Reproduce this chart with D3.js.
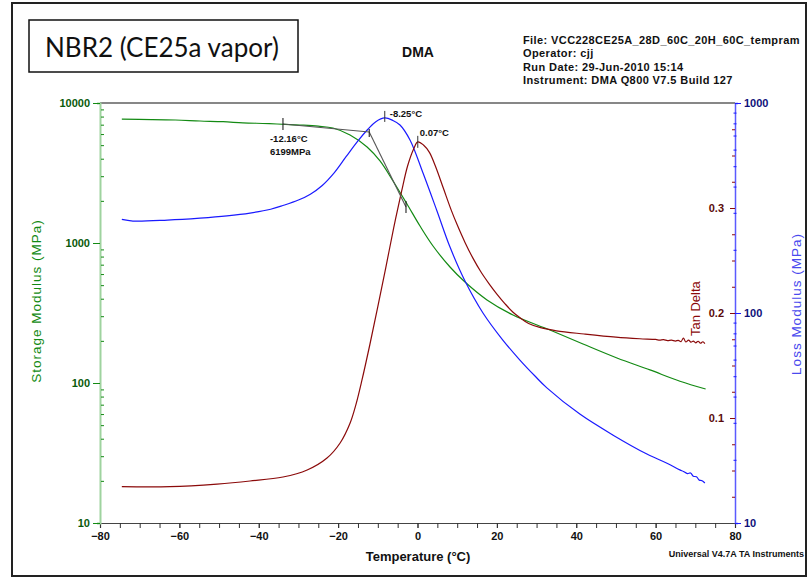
<!DOCTYPE html>
<html>
<head>
<meta charset="utf-8">
<script src="https://cdn.jsdelivr.net/npm/d3@7/dist/d3.min.js"></script>
<style>
  html, body { margin: 0; padding: 0; background: #fff; }
  svg { display: block; }
  text { font-family: "Liberation Sans", Arial, sans-serif; }
</style>
</head>
<body>
<svg id="chart" width="809" height="579"></svg>
<script>
// ---- DMA temperature ramp, NBR2 (CE25a vapor) ----
// Storage modulus E' (MPa) vs temperature (°C)
const storageT   = [-74.5, -67, -61, -54.8, -49, -44, -39, -35.4, -29.6, -25, -21.3, -17, -12.7, -9.45, -6.17, -2.65, 0.63, 3.91, 8.19, 11.97, 17.51, 24.06, 33.38, 41.7, 50.26, 58.57, 66.13, 72.6];
const storageMPa = [7660, 7620, 7560, 7440, 7350, 7220, 7140, 7080, 6960, 6830, 6630, 5910, 4850, 3853, 2773, 1900, 1322, 952, 674, 526, 392, 306, 239, 190, 151, 124, 103, 90.6];

// Loss modulus E'' (MPa)
const lossT   = [-74.5, -71.7, -63, -54.8, -48, -42.2, -37, -33.9, -30, -27, -24, -21, -18, -15, -12.5, -10.5, -8.25, -6.2, -4.41, -1.89, 1.39, 4.91, 8.19, 11.97, 16.5, 21.5, 25.8, 29.6, 32.6, 40.9, 49.3, 57.8, 63, 66.1, 67, 68, 68.8, 69.5, 70.3, 71, 71.7, 72.4];
const lossMPa = [279, 274, 277, 283, 290, 299, 312, 325, 345, 368, 405, 465, 555, 660, 750, 815, 849, 826, 786, 667, 464, 306, 206, 142, 100, 74.3, 59.7, 50.1, 44, 33.0, 26.2, 21.3, 19.2, 17.9, 17.6, 17.2, 17.3, 16.7, 16.6, 16.0, 15.9, 15.5];

// Tan delta (dimensionless)
const tanT     = [-74.5, -62.4, -50.5, -42.2, -33.9, -27.8, -22.8, -19.5, -17, -15.5, -14, -12, -10, -8, -6, -4, -2.5, -1, 0.07, 1.5, 3, 4.5, 6.5, 8.5, 10, 12, 14, 16, 18, 20, 22, 24, 26, 28, 31, 35, 42, 50, 56, 60, 61, 62, 63, 64, 65, 65.7, 66.4, 67, 67.6, 68.3, 68.9, 69.5, 70.1, 70.7, 71.3, 71.9, 72.4];
const tanDelta = [0.0346, 0.0346, 0.0371, 0.040, 0.0438, 0.0505, 0.0619, 0.0762, 0.095, 0.113, 0.136, 0.170, 0.206, 0.243, 0.281, 0.316, 0.340, 0.356, 0.363, 0.360, 0.353, 0.340, 0.319, 0.298, 0.284, 0.267, 0.252, 0.239, 0.228, 0.218, 0.209, 0.201, 0.195, 0.190, 0.186, 0.183, 0.180, 0.177, 0.1755, 0.1748, 0.1742, 0.1746, 0.1737, 0.1741, 0.1733, 0.1740, 0.1728, 0.1762, 0.1724, 0.1742, 0.1722, 0.1733, 0.1716, 0.1731, 0.1712, 0.1726, 0.1708];

// Axis ticks
const tempMajor = [-80, -60, -40, -20, 0, 20, 40, 60, 80];
const tempMinor = d3.range(-80, 81, 5);
const storageTicks = [10, 100, 1000, 10000];
const lossTicks = [10, 100, 1000];
const tanTicks = [0.1, 0.2, 0.3];

// Analysis results
const onsetTangent1 = { t0: -33.9, e0: 7080, t1: -12.16, e1: 6199 };
const onsetTangent2 = { t0: -12.16, e0: 6199, t1: -2.9, e1: 1808 };
const onsetLabel = ["-12.16°C", "6199MPa"];
const lossPeak = { t: -8.25, v: 849, label: "-8.25°C" };
const tanPeak = { t: 0.07, v: 0.363, label: "0.07°C" };

// Header
const chartTitle = "NBR2 (CE25a vapor)";
const methodName = "DMA";
const runInfo = [
  "File: VCC228CE25A_28D_60C_20H_60C_tempram",
  "Operator: cjj",
  "Run Date: 29-Jun-2010 15:14",
  "Instrument: DMA Q800 V7.5 Build 127"
];
const softwareNote = "Universal V4.7A TA Instruments";

// ---- layout ----
const plot = { left: 100, right: 735, top: 103, bottom: 523 };
const colors = {
  storage: "#138a13", storageAxis: "#9fd39f", storageText: "#0a5a0a",
  loss: "#1a1aff", lossAxis: "#5a5aff", lossText: "#10107a", lossTitle: "#4a4aee",
  tan: "#8b0a0a", tanText: "#5a0a0a"
};

const svg = d3.select("#chart");

// frame
svg.append("rect").attr("x", 12).attr("y", 3).attr("width", 794).attr("height", 573)
  .attr("fill", "none").attr("stroke", "#222").attr("stroke-width", 2);

// title box
svg.append("rect").attr("x", 29).attr("y", 20).attr("width", 269).attr("height", 52)
  .attr("fill", "#fff").attr("stroke", "#111").attr("stroke-width", 1.5);
svg.append("text").attr("x", 45).attr("y", 57).attr("font-size", 26)
  .style("font-family", "Lato, 'Open Sans', sans-serif").attr("fill", "#111").text(chartTitle);

svg.append("text").attr("x", 418).attr("y", 57).attr("text-anchor", "middle")
  .attr("font-size", 14).attr("font-weight", "bold").attr("fill", "#111").text(methodName);

svg.append("clipPath").attr("id", "frameClip")
  .append("rect").attr("x", 13).attr("y", 4).attr("width", 792).attr("height", 571);
svg.append("g").attr("clip-path", "url(#frameClip)")
  .selectAll("text").data(runInfo).join("text")
  .attr("x", 523).attr("y", (d, i) => 44 + i * 13.3)
  .attr("font-size", 11).attr("letter-spacing", 0.4).attr("font-weight", "bold").attr("fill", "#111")
  .text(d => d);

// ---- scales ----
const x = d3.scaleLinear().domain([-80, 80]).range([plot.left, plot.right]);
const yE = d3.scaleLog().domain([10, 10000]).range([plot.bottom, plot.top]);
const yL = d3.scaleLog().domain([10, 1000]).range([plot.bottom, plot.top]);
const yT = d3.scaleLinear().domain([0, 0.4]).range([plot.bottom, plot.top]);

// top border of plot
svg.append("line").attr("x1", plot.left).attr("x2", plot.right)
  .attr("y1", plot.top).attr("y2", plot.top).attr("stroke", "#111").attr("stroke-width", 1.2);

// ---- x axis ----
const gx = svg.append("g").attr("transform", `translate(0,${plot.bottom})`);
gx.call(d3.axisBottom(x).tickValues(tempMinor).tickSize(5).tickFormat(""));
gx.selectAll(".tick line").attr("stroke", "#333");
gx.select(".domain").attr("stroke", "#444").attr("stroke-width", 1.2);
const gxl = svg.append("g").attr("transform", `translate(0,${plot.bottom})`);
gxl.call(d3.axisBottom(x).tickValues(tempMajor).tickSize(5).tickPadding(4).tickFormat(d3.format("d")));
gxl.select(".domain").remove();
gxl.selectAll(".tick text").attr("font-size", 11).attr("font-weight", "bold").attr("fill", "#111")
  .style("font-family", "'Liberation Sans', Arial, sans-serif");
gxl.selectAll(".tick line").attr("stroke", "#333");

svg.append("text").attr("x", 418).attr("y", 561).attr("text-anchor", "middle")
  .attr("font-size", 13).attr("font-weight", "bold").attr("fill", "#111").text("Temperature (°C)");
svg.append("text").attr("x", 804).attr("y", 557).attr("text-anchor", "end")
  .attr("font-size", 9).attr("font-weight", "bold").attr("fill", "#111").text(softwareNote);

// ---- left axis: storage modulus ----
const storageMinor = [];
[10, 100, 1000].forEach(b => { for (let k = 2; k <= 9; k++) storageMinor.push(b * k); });
const gE = svg.append("g").attr("transform", `translate(${plot.left},0)`);
gE.call(d3.axisLeft(yE).tickValues(storageMinor).tickSize(3).tickFormat(""));
gE.selectAll(".tick line").attr("stroke", colors.storage).attr("transform", "translate(4,0)");
gE.select(".domain").attr("stroke", colors.storageAxis).attr("stroke-width", 2);
const gE2 = svg.append("g").attr("transform", `translate(${plot.left},0)`);
gE2.call(d3.axisLeft(yE).tickValues(storageTicks).tickSize(7).tickPadding(3).tickFormat(d3.format("d")));
gE2.select(".domain").remove();
gE2.selectAll(".tick line").attr("stroke", colors.storage);
gE2.selectAll(".tick text").attr("font-size", 11).attr("font-weight", "bold").attr("fill", colors.storageText)
  .style("font-family", "'Liberation Sans', Arial, sans-serif");

svg.append("text").attr("transform", "translate(41,301) rotate(-90)").attr("text-anchor", "middle")
  .attr("font-size", 13.5).attr("letter-spacing", 1).attr("fill", colors.storage).text("Storage Modulus (MPa)");

// ---- right axis: loss modulus + tan delta ----
const lossMinor = [];
[10, 100].forEach(b => { for (let k = 2; k <= 9; k++) lossMinor.push(b * k); });
const gL = svg.append("g").attr("transform", `translate(${plot.right},0)`);
gL.call(d3.axisRight(yL).tickValues(lossMinor).tickSize(3).tickFormat(""));
gL.selectAll(".tick line").attr("stroke", colors.loss).attr("transform", "translate(-1.5,0)");
gL.select(".domain").attr("stroke", colors.lossAxis).attr("stroke-width", 1.5);
const gL2 = svg.append("g").attr("transform", `translate(${plot.right},0)`);
gL2.call(d3.axisRight(yL).tickValues(lossTicks).tickSize(6).tickPadding(3).tickFormat(d3.format("d")));
gL2.select(".domain").remove();
gL2.selectAll(".tick line").attr("stroke", colors.loss);
gL2.selectAll(".tick text").attr("font-size", 11).attr("font-weight", "bold").attr("fill", colors.lossText)
  .style("font-family", "'Liberation Sans', Arial, sans-serif");

const tanMinor = d3.range(0.025, 0.4, 0.025).filter(v => Math.abs(v * 10 - Math.round(v * 10)) > 1e-6);
const gT = svg.append("g").attr("transform", `translate(${plot.right},0)`);
gT.call(d3.axisLeft(yT).tickValues(tanMinor).tickSize(3).tickFormat(""));
gT.select(".domain").remove();
gT.selectAll(".tick line").attr("stroke", colors.tan);
const gT2 = svg.append("g").attr("transform", `translate(${plot.right},0)`);
gT2.call(d3.axisLeft(yT).tickValues(tanTicks).tickSize(5).tickPadding(6).tickFormat(d3.format(".1f")));
gT2.select(".domain").remove();
gT2.selectAll(".tick line").attr("stroke", colors.tan);
gT2.selectAll(".tick text").attr("font-size", 11).attr("font-weight", "bold").attr("fill", colors.tanText)
  .style("font-family", "'Liberation Sans', Arial, sans-serif");

svg.append("text").attr("transform", "translate(801,304) rotate(-90)").attr("text-anchor", "middle")
  .attr("font-size", 13.5).attr("letter-spacing", 1).attr("fill", colors.lossTitle).text("Loss Modulus (MPa)");

// ---- curves ----
const smooth = d3.curveCatmullRom.alpha(0.5);
const curves = svg.append("g").attr("fill", "none").attr("stroke-width", 1.2);
const lineE = d3.line().x((d, i) => x(storageT[i])).y(d => yE(d)).curve(smooth);
const lineL = d3.line().x((d, i) => x(lossT[i])).y(d => yL(d)).curve(smooth);
const lineT = d3.line().x((d, i) => x(tanT[i])).y(d => yT(d)).curve(smooth);
curves.append("path").attr("d", lineE(storageMPa)).attr("stroke", colors.storage);
curves.append("path").attr("d", lineL(lossMPa)).attr("stroke", colors.loss);
curves.append("path").attr("d", lineT(tanDelta)).attr("stroke", colors.tan);

// "Tan Delta" tag at the end of its curve
svg.append("text").attr("transform", `translate(${x(71.1)},${yT(0.178)}) rotate(-90)`)
  .attr("font-size", 13).attr("fill", colors.tan).text("Tan Delta");

// ---- onset tangents ----
const ann = svg.append("g").attr("stroke", "#555").attr("stroke-width", 1.1);
[onsetTangent1, onsetTangent2].forEach(s => {
  ann.append("line").attr("x1", x(s.t0)).attr("y1", yE(s.e0)).attr("x2", x(s.t1)).attr("y2", yE(s.e1));
});
ann.append("line").attr("x1", x(onsetTangent1.t0)).attr("x2", x(onsetTangent1.t0))
  .attr("y1", yE(onsetTangent1.e0) - 6).attr("y2", yE(onsetTangent1.e0) + 6).attr("stroke", "#222");
ann.append("line").attr("x1", x(onsetTangent1.t1)).attr("x2", x(onsetTangent1.t1))
  .attr("y1", yE(onsetTangent1.e1) - 3).attr("y2", yE(onsetTangent1.e1) + 5).attr("stroke", "#222");
ann.append("line").attr("x1", x(onsetTangent2.t1)).attr("x2", x(onsetTangent2.t1))
  .attr("y1", yE(onsetTangent2.e1) - 6).attr("y2", yE(onsetTangent2.e1) + 6).attr("stroke", "#222");

svg.selectAll(".onsetLbl").data(onsetLabel).join("text")
  .attr("x", x(onsetTangent1.t0) - 13).attr("y", (d, i) => 142 + i * 12.5)
  .attr("font-size", 9.5).attr("font-weight", "bold").attr("fill", "#111").text(d => d);

// peak markers
svg.append("line").attr("x1", x(lossPeak.t)).attr("x2", x(lossPeak.t))
  .attr("y1", yL(lossPeak.v) - 7).attr("y2", yL(lossPeak.v) + 4).attr("stroke", "#333");
svg.append("text").attr("x", x(lossPeak.t) + 5).attr("y", yL(lossPeak.v) - 1)
  .attr("font-size", 9.5).attr("font-weight", "bold").attr("fill", "#111").text(lossPeak.label);
svg.append("line").attr("x1", x(tanPeak.t)).attr("x2", x(tanPeak.t))
  .attr("y1", yT(tanPeak.v) - 6).attr("y2", yT(tanPeak.v) + 6).attr("stroke", "#333");
svg.append("text").attr("x", x(tanPeak.t) + 2).attr("y", yT(tanPeak.v) - 6)
  .attr("font-size", 9.5).attr("font-weight", "bold").attr("fill", "#111").text(tanPeak.label);
</script>
</body>
</html>
